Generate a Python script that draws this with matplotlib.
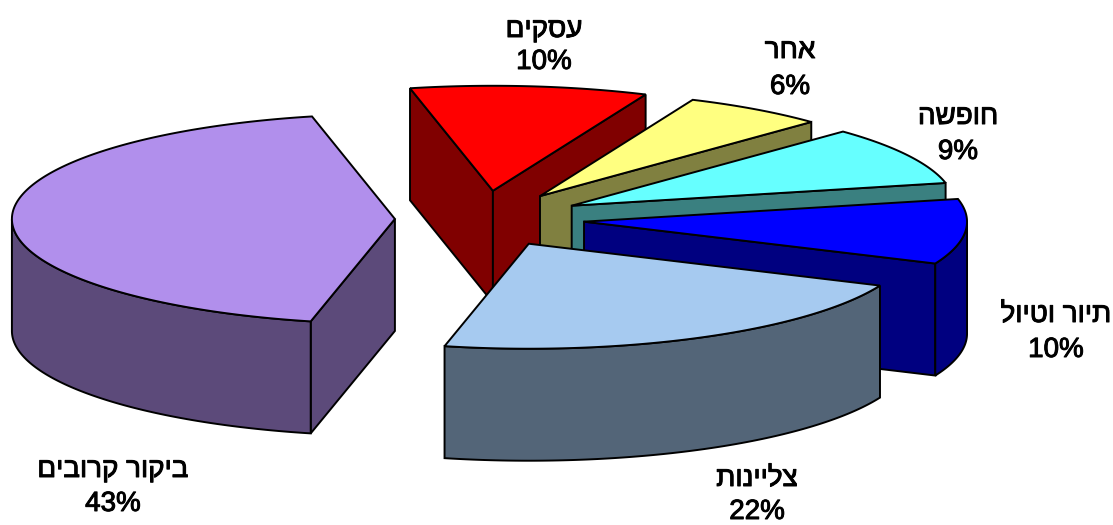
import numpy as np
import matplotlib
matplotlib.use('Agg')
import matplotlib.pyplot as plt
import matplotlib.patheffects as pe
from matplotlib.patches import Polygon

# slices, clockwise from the top left
labels = ['עסקים', 'אחר', 'חופשה', 'תיור וטיול', 'צליינות', 'ביקור קרובים']
shares = [10, 6, 9, 10, 22, 43]

top_colors = ['#FF0000', '#FFFF80', '#66FFFF', '#0000FF', '#A6CAF0', '#B18FEC']
side_colors = ['#800000', '#808040', '#3A8080', '#000080', '#536578', '#5C4A7A']
explode = [0.27, 0.264, 0.264, 0.265, 0.264, 0.23]
label_pos = [(544, 30, 62), (790, 51, 87), (958, 117, 152),
             (1056, 315, 350), (757, 479, 512), (113, 470, 504)]

# pie shape in pixels
cx, cy = 483, 219
rx, ry = 383, 105
depth = 112
start = 102.5


def ell(c, t):
    return np.column_stack([c[0] + rx * np.cos(t), c[1] - ry * np.sin(t)])


def draw_poly(ax, pts, color, z):
    ax.add_patch(Polygon(pts, closed=True, facecolor=color, edgecolor='black',
                         linewidth=1.4, joinstyle='miter', zorder=z))


fig = plt.figure(figsize=(11.13, 5.25), dpi=100)
ax = fig.add_axes([0, 0, 1, 1])
ax.set_xlim(0, 1113)
ax.set_ylim(525, 0)
ax.axis('off')

angle = start
for i, share in enumerate(shares):
    t1 = np.radians(angle)
    t2 = np.radians(angle - share * 3.6)
    angle -= share * 3.6
    mid = (t1 + t2) / 2
    apex = (cx + explode[i] * rx * np.cos(mid), cy - explode[i] * ry * np.sin(mid))
    down = np.array([0, depth])
    z = i * 10

    # cut walls that face the viewer
    for t, visible in ((t1, np.cos(t1) < 0), (t2, np.cos(t2) > 0)):
        if visible:
            rim = ell(apex, np.array([t]))[0]
            a = np.array(apex)
            draw_poly(ax, [a, rim, rim + down, a + down], side_colors[i], z + 1)

    # outer wall, only the part below the middle of the ellipse
    t = np.linspace(t1, t2, 200)
    front = np.sin(t) < 0
    if front.any():
        arc = ell(apex, t[front])
        draw_poly(ax, np.vstack([arc, (arc + down)[::-1]]), side_colors[i], z + 2)

    # top face
    draw_poly(ax, np.vstack([[apex], ell(apex, t)]), top_colors[i], z + 3)

# matplotlib has no bidi support, hebrew goes in visual order
heavy = [pe.withStroke(linewidth=0.7, foreground='black')]
for i, (x, y1, y2) in enumerate(label_pos):
    ax.text(x, y1, labels[i][::-1], family='Liberation Sans', fontsize=20,
            ha='center', va='center', color='black', zorder=100, path_effects=heavy)
    ax.text(x, y2, '%d%%' % shares[i], family='Liberation Sans', fontsize=20,
            ha='center', va='center', color='black', zorder=100, path_effects=heavy)

fig.savefig('out.png', dpi=100, facecolor='white')
